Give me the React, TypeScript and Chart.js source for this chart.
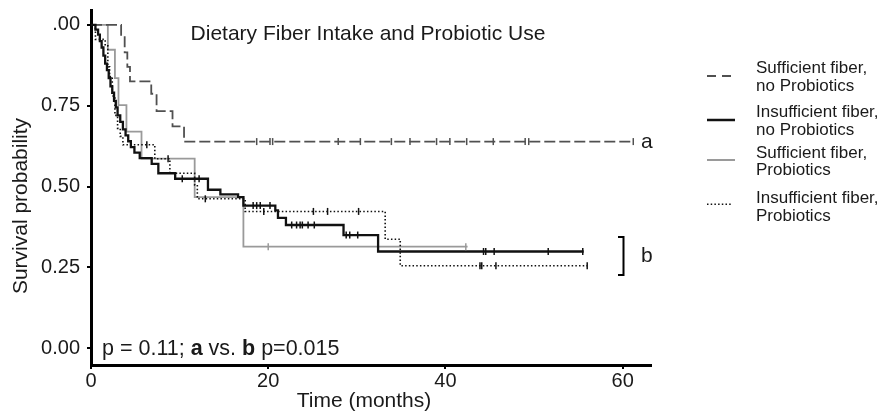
import React, { useEffect, useRef } from 'react';
import { Chart, registerables } from 'chart.js';

Chart.register(...registerables);

// ---- Data (months, survival probability) ----
const suffNoProbTimes = [0, 3.4, 3.8, 4.1, 4.4, 6.8, 7.4, 9.2, 10.5, 61.2];
const suffNoProbSurv = [1, 0.966, 0.915, 0.87, 0.825, 0.787, 0.733, 0.686, 0.639, 0.639];
const suffNoProbCensor = [18.7, 20.2, 20.5, 27.9, 30.4, 33.9, 36.0, 39.0, 40.5, 42.4, 45.4, 49.0, 49.4, 61.2];

const insuffNoProbTimes = [0, 0.5, 0.8, 1.0, 1.2, 1.4, 1.6, 1.8, 2.0, 2.2, 2.4, 2.6, 2.8, 3.0, 3.3, 3.6, 3.9, 4.2, 4.5, 4.9, 5.5, 6.85, 7.6, 9.5, 13.2, 14.6, 16.6, 17.2, 20.8, 21.1, 22.0, 28.5, 32.4, 55.6];
const insuffNoProbSurv = [1, 0.985, 0.97, 0.95, 0.93, 0.905, 0.88, 0.86, 0.835, 0.81, 0.79, 0.765, 0.745, 0.72, 0.7, 0.677, 0.658, 0.64, 0.622, 0.605, 0.588, 0.57, 0.541, 0.524, 0.49, 0.476, 0.467, 0.441, 0.426, 0.403, 0.381, 0.35, 0.299, 0.299];
const insuffNoProbCensor = [10.3, 12.2, 18.3, 18.7, 19.1, 20.2, 22.65, 23.2, 23.6, 23.85, 24.5, 25.2, 28.8, 29.2, 30.1, 44.3, 44.55, 45.5, 51.6, 55.5];

const suffProbTimes = [0, 1.9, 2.7, 3.1, 4.0, 5.7, 11.7, 17.2, 42.5];
const suffProbSurv = [1, 0.923, 0.835, 0.752, 0.67, 0.586, 0.467, 0.314, 0.314];
const suffProbCensor = [20.0, 42.3];

const insuffProbTimes = [0, 0.5, 1.6, 1.9, 2.1, 2.4, 2.7, 3.0, 3.3, 3.6, 7.2, 8.9, 11.7, 12.0, 17.4, 33.2, 34.9, 56.0];
const insuffProbSurv = [1, 0.955, 0.935, 0.87, 0.84, 0.78, 0.72, 0.68, 0.655, 0.629, 0.586, 0.541, 0.505, 0.462, 0.423, 0.337, 0.255, 0.255];
const insuffProbCensor = [6.3, 8.7, 12.9, 19.5, 25.1, 26.7, 30.2, 43.9, 44.1, 45.7, 56.0];

const seriesLabels = [
  ['Sufficient fiber,', 'no Probiotics'],
  ['Insufficient fiber,', 'no Probiotics'],
  ['Sufficient fiber,', 'Probiotics'],
  ['Insufficient fiber,', 'Probiotics'],
];

const xTickValues = [0, 20, 40, 60];
const xTickLabels = ['0', '20', '40', '60'];
const yTickValues = [0, 0.25, 0.5, 0.75, 1];
const yTickLabels = ['0.00', '0.25', '0.50', '0.75', '.00'];

const chartTitle = 'Dietary Fiber Intake and Probiotic Use';
const xTitle = 'Time (months)';
const yTitle = 'Survival probability';

const FONT = "'Liberation Sans', Arial, Helvetica, sans-serif";
const TEXT = '#1a1a1a';
const DASH_COLOR = '#505050';
const BLACK = '#111111';
const GRAY = '#9a9a9a';

const survAt = (t: number[], s: number[], x: number) => {
  let v = s[0];
  for (let i = 0; i < t.length; i++) if (t[i] <= x) v = s[i];
  return v;
};
const toPoints = (t: number[], s: number[]) => t.map((x, i) => ({ x, y: s[i] }));
const toCensor = (t: number[], s: number[], c: number[]) => c.map((x) => ({ x, y: survAt(t, s, x) }));

const stepDs = (data: any, color: string, width: number, dash: number[], order: number) => ({
  type: 'line',
  data,
  borderColor: color,
  borderWidth: width,
  borderDash: dash,
  stepped: 'before',
  pointRadius: 0,
  fill: false,
  order,
});
const censorDs = (data: any, color: string, order: number) => ({
  type: 'line',
  data,
  showLine: false,
  borderColor: color,
  backgroundColor: color,
  pointStyle: 'line',
  rotation: 90,
  pointRadius: 3.5,
  pointBorderWidth: 1.5,
  pointBorderColor: color,
  order,
});

const zeroPad = (s: any) => {
  s.paddingTop = 0;
  s.paddingBottom = 0;
  s.paddingLeft = 0;
  s.paddingRight = 0;
};

const overlayPlugin = {
  id: 'overlay',
  afterDraw(chart: any) {
    const ctx = chart.ctx as CanvasRenderingContext2D;
    ctx.save();
    ctx.fillStyle = TEXT;
    ctx.textBaseline = 'alphabetic';

    // title
    ctx.font = `21px ${FONT}`;
    ctx.textAlign = 'center';
    ctx.fillText(chartTitle, 368, 39.5);

    // axis titles
    ctx.fillText(xTitle, 364, 407);
    ctx.save();
    ctx.translate(27, 206);
    ctx.rotate(-Math.PI / 2);
    ctx.fillText(yTitle, 0, 0);
    ctx.restore();

    // p-value text with bold a / b
    ctx.textAlign = 'left';
    const parts: [string, boolean][] = [
      ['p = 0.11; ', false],
      ['a', true],
      [' vs. ', false],
      ['b', true],
      [' p=0.015', false],
    ];
    let px = 102;
    for (const [t, b] of parts) {
      ctx.font = `${b ? 'bold ' : ''}21.5px ${FONT}`;
      ctx.fillText(t, px, 355);
      px += ctx.measureText(t).width;
    }

    // group letters and bracket
    ctx.font = `21px ${FONT}`;
    ctx.fillText('a', 641, 148);
    ctx.fillText('b', 641, 261.5);
    ctx.strokeStyle = '#000';
    ctx.lineWidth = 2;
    ctx.setLineDash([]);
    ctx.beginPath();
    ctx.moveTo(618, 237);
    ctx.lineTo(623.5, 237);
    ctx.lineTo(623.5, 275);
    ctx.lineTo(618, 275);
    ctx.stroke();

    // legend
    const items = [
      { y: 76, color: DASH_COLOR, width: 2, dash: [9, 6], x2: 733, l1: 73.3 },
      { y: 120, color: BLACK, width: 2.5, dash: [], x2: 735, l1: 117.3 },
      { y: 160, color: GRAY, width: 2, dash: [], x2: 735, l1: 157.7 },
      { y: 204.3, color: BLACK, width: 1.5, dash: [1.5, 2.2], x2: 732, l1: 203.3 },
    ];
    items.forEach((it, i) => {
      ctx.strokeStyle = it.color;
      ctx.lineWidth = it.width;
      ctx.setLineDash(it.dash);
      ctx.beginPath();
      ctx.moveTo(707, it.y);
      ctx.lineTo(it.x2, it.y);
      ctx.stroke();
      ctx.setLineDash([]);
      ctx.fillStyle = TEXT;
      ctx.font = `17px ${FONT}`;
      ctx.textAlign = 'left';
      ctx.fillText(seriesLabels[i][0], 756, it.l1);
      ctx.fillText(seriesLabels[i][1], 756, it.l1 + 17.5);
    });
    ctx.restore();
  },
};

export default function App() {
  const ref = useRef<HTMLCanvasElement | null>(null);
  useEffect(() => {
    if (!ref.current) return;
    const chart = new Chart(ref.current, {
      type: 'line',
      data: {
        datasets: [
          stepDs(toPoints(suffProbTimes, suffProbSurv), GRAY, 1.8, [], 4),
          stepDs(toPoints(insuffProbTimes, insuffProbSurv), BLACK, 1.6, [1.5, 2.2], 3),
          stepDs(toPoints(suffNoProbTimes, suffNoProbSurv), DASH_COLOR, 1.8, [11, 4], 2),
          stepDs(toPoints(insuffNoProbTimes, insuffNoProbSurv), BLACK, 2.3, [], 1),
          censorDs(toCensor(suffProbTimes, suffProbSurv, suffProbCensor), GRAY, 0),
          censorDs(toCensor(insuffProbTimes, insuffProbSurv, insuffProbCensor), BLACK, 0),
          censorDs(toCensor(suffNoProbTimes, suffNoProbSurv, suffNoProbCensor), DASH_COLOR, 0),
          censorDs(toCensor(insuffNoProbTimes, insuffNoProbSurv, insuffNoProbCensor), BLACK, 0),
        ] as any,
      },
      options: {
        responsive: false,
        animation: false,
        devicePixelRatio: 1,
        layout: { padding: { top: 10, right: 231, left: 0, bottom: 0 } },
        elements: { line: { tension: 0 } },
        plugins: { legend: { display: false }, tooltip: { enabled: false }, title: { display: false } },
        scales: {
          x: {
            type: 'linear',
            min: 0,
            max: 63.2,
            afterBuildTicks: (s: any) => {
              s.ticks = xTickValues.map((v) => ({ value: v }));
            },
            afterFit: (s: any) => {
              s.height = 48;
              zeroPad(s);
            },
            ticks: {
              font: { family: FONT, size: 20 },
              color: TEXT,
              padding: 0,
              maxRotation: 0,
              autoSkip: false,
              callback: (_v: any, i: number) => xTickLabels[i],
            },
            grid: { drawOnChartArea: false, tickLength: 4, color: '#000', lineWidth: 2 },
            border: { color: '#000', width: 3 },
          },
          y: {
            type: 'linear',
            min: -0.052,
            max: 1.046,
            afterBuildTicks: (s: any) => {
              s.ticks = yTickValues.map((v) => ({ value: v }));
            },
            afterFit: (s: any) => {
              s.width = 91;
              zeroPad(s);
            },
            ticks: {
              font: { family: FONT, size: 20 },
              color: TEXT,
              padding: 7,
              autoSkip: false,
              callback: (_v: any, i: number) => yTickLabels[i],
            },
            grid: { drawOnChartArea: false, tickLength: 4, color: '#000', lineWidth: 2 },
            border: { color: '#000', width: 3 },
          },
        },
      } as any,
      plugins: [overlayPlugin],
    });
    return () => chart.destroy();
  }, []);
  return (
    <div style={{ position: 'absolute', left: 0, top: 0, width: 882, height: 413, background: '#fff' }}>
      <canvas ref={ref} width={882} height={413} style={{ display: 'block' }} />
    </div>
  );
}
